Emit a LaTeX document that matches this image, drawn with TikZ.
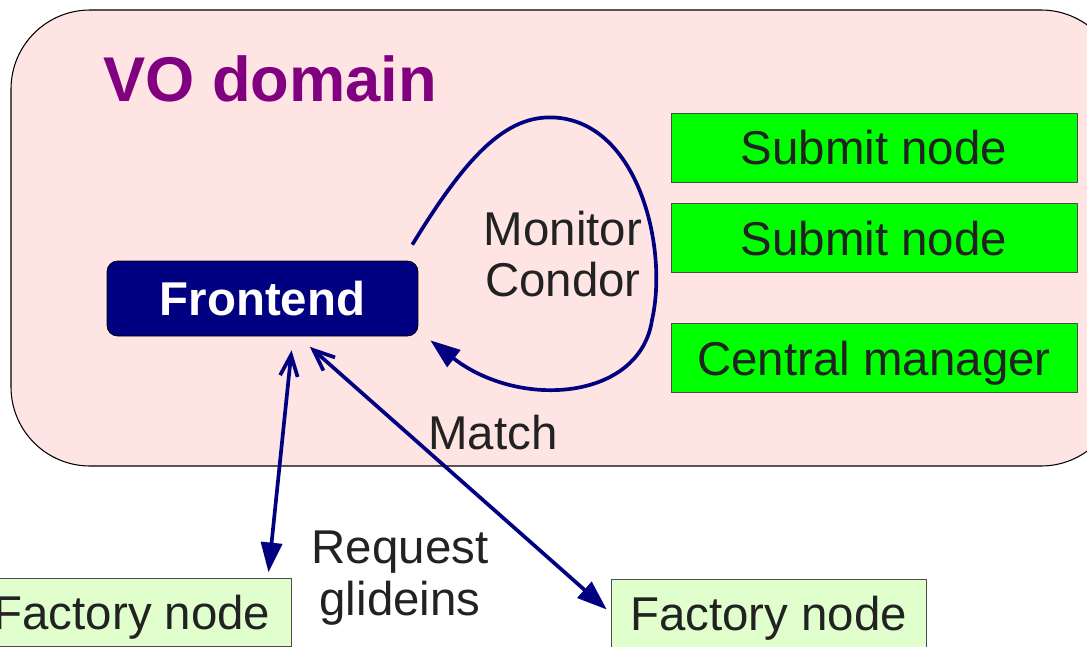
\documentclass[tikz,border=0pt]{standalone}
\usepackage{fontspec}
\setmainfont{Liberation Sans}
\usetikzlibrary{arrows.meta,calc}

\begin{document}
\begin{tikzpicture}[x=0.02cm,y=-0.02cm,
    txt/.style={text=ink, font=\fontsize{27}{29.5}\selectfont},
    greenbox/.style={txt, draw=black!70, fill=condor, minimum width=8.12cm, minimum height=1.38cm, inner sep=0pt, text height=19.7pt, text depth=0pt},
    factbox/.style={txt, draw=black!70, fill=factory, minimum height=1.36cm, inner sep=0pt, text height=19.7pt, text depth=0pt},
    conn/.style={draw=navy, line width=2.1pt, {Straight Barb[length=12pt,width=10pt]}-{Triangle[length=17pt,width=12pt]}}]
    % Define colors
    \definecolor{domain}{RGB}{255,228,228}
    \definecolor{condor}{RGB}{0,255,0}
    \definecolor{factory}{RGB}{224,255,204}
    \definecolor{navy}{RGB}{0,0,128}
    \definecolor{vo}{RGB}{128,0,128}
    \definecolor{ink}{RGB}{34,34,34}

    \useasboundingbox (0,0) rectangle (1087,646);
    \clip (0,0) rectangle (1087,646);

    % VO domain area
    \draw[fill=domain, draw=black, line width=0.6pt, rounded corners=45pt] (11,10) rectangle (1120,466);
    \node[anchor=base west, inner sep=0pt, text=vo, font=\fontsize{36}{40}\selectfont\bfseries] (vo) at (103,101) {VO domain};

    % Condor services
    \foreach \name/\y/\label in {sub1/147.5/Submit node, sub2/238/Submit node, cm/358/Central manager} {
        \node[greenbox] (\name) at (874,\y) {\label};
    }

    % Frontend
    \node[fill=navy, draw=black, rounded corners=6pt, minimum width=6.22cm, minimum height=1.5cm,
          text=white, font=\fontsize{27}{29.5}\selectfont\bfseries] (front) at (262.5,298.5) {Frontend};

    % Factory nodes
    \node[factbox, minimum width=6.36cm] (facA) at (132,612) {Factory node};
    \node[factbox, minimum width=6.3cm] (facB) at (768.5,613) {Factory node};

    % Labels
    \node[txt, align=center] (mon) at (563,254) {Monitor\\Condor};
    \node[txt] (match) at (493,433) {Match};
    \node[txt, align=center] (req) at (400,578) {Request\\glideins};

    % Monitoring loop
    \draw[draw=navy, line width=2.1pt, -{Triangle[length=17pt,width=12pt]}]
        ([shift={(-6,-16)}]front.north east) .. controls (470,150) and (510,112) .. (560,118)
        .. controls (640,128) and (668,250) .. (652,320)
        .. controls (640,400) and (520,410) .. ([shift={(12,4)}]front.south east);

    % Requests and matching
    \draw[conn, shorten <=8pt, shorten >=3pt] ([xshift=0.61cm]front.south) -- ([xshift=2.72cm]facA.north);
    \draw[conn, shorten <=9pt, shorten >=3pt] ([xshift=0.71cm]front.south) -- (facB.west);
\end{tikzpicture}
\end{document}
